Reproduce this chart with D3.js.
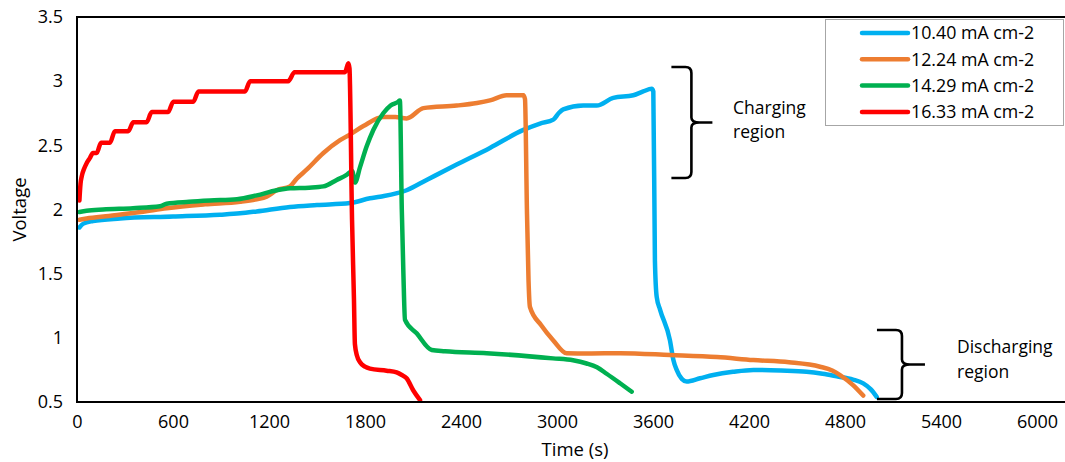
<!DOCTYPE html>
<html>
<head>
<meta charset="utf-8">
<script src="https://cdn.jsdelivr.net/npm/d3@7"></script>
<style>
  html, body { margin: 0; padding: 0; background: #fff; }
  svg { display: block; font-family: "Open Sans", "Noto Sans", sans-serif; }
</style>
</head>
<body>
<svg id="chart" width="1065" height="462"></svg>
<script>
// ---------------- data ----------------
const seriesNames = ["10.40 mA cm-2", "12.24 mA cm-2", "14.29 mA cm-2", "16.33 mA cm-2"];
const seriesColors = ["#00B0F0", "#ED7D31", "#00B050", "#FF0000"];

const blueT = [15, 40, 100, 269, 600, 894, 1019, 1123, 1331, 1500, 1706, 1831, 1894, 2060, 2185, 2373, 2581, 2790, 2894, 2977, 3010, 3039, 3164, 3248, 3352, 3477, 3539, 3592, 3602, 3612, 3623, 3644, 3706, 3727, 3748, 3780, 3810, 3894, 3977, 4100, 4227, 4400, 4560, 4660, 4748, 4850, 4914, 4960, 4998];
const blueV = [1.86, 1.89, 1.91, 1.93, 1.945, 1.96, 1.97, 1.985, 2.02, 2.035, 2.05, 2.087, 2.10, 2.15, 2.23, 2.35, 2.48, 2.62, 2.67, 2.70, 2.75, 2.78, 2.81, 2.81, 2.87, 2.89, 2.92, 2.94, 2.92, 1.6, 1.32, 1.22, 0.98, 0.83, 0.75, 0.68, 0.66, 0.685, 0.71, 0.735, 0.75, 0.745, 0.736, 0.72, 0.70, 0.675, 0.645, 0.6, 0.54];

const orangeT = [15, 60, 200, 400, 560, 800, 1019, 1123, 1185, 1248, 1331, 1373, 1435, 1540, 1644, 1700, 1790, 1914, 1990, 2060, 2165, 2373, 2500, 2581, 2685, 2790, 2800, 2812, 2822, 2831, 2900, 2977, 3060, 3200, 3394, 3706, 4000, 4227, 4450, 4644, 4720, 4769, 4852, 4914];
const orangeV = [1.92, 1.93, 1.95, 1.98, 2.01, 2.04, 2.06, 2.08, 2.10, 2.15, 2.18, 2.24, 2.31, 2.44, 2.54, 2.58, 2.65, 2.72, 2.72, 2.71, 2.79, 2.81, 2.83, 2.85, 2.89, 2.89, 2.86, 2.0, 1.45, 1.24, 1.1, 0.98, 0.88, 0.878, 0.88, 0.866, 0.85, 0.827, 0.81, 0.775, 0.745, 0.71, 0.63, 0.55];

const greenT = [15, 60, 163, 350, 519, 560, 700, 831, 1000, 1123, 1248, 1331, 1450, 1540, 1623, 1685, 1720, 1737, 1769, 1810, 1852, 1914, 1960, 2008, 2018, 2030, 2040, 2050, 2123, 2217, 2300, 2561, 2975, 3100, 3185, 3250, 3310, 3394, 3467];
const greenV = [1.98, 1.99, 2.0, 2.01, 2.025, 2.045, 2.06, 2.07, 2.08, 2.11, 2.15, 2.165, 2.17, 2.18, 2.23, 2.27, 2.30, 2.21, 2.33, 2.49, 2.62, 2.75, 2.81, 2.84, 2.85, 2.0, 1.5, 1.14, 1.035, 0.905, 0.895, 0.88, 0.84, 0.825, 0.80, 0.77, 0.72, 0.646, 0.58];

const redT = [15, 22, 30, 45, 60, 80, 100, 123, 150, 206, 237, 320, 352, 435, 467, 570, 602, 727, 759, 1050, 1082, 1320, 1360, 1675, 1696, 1703, 1719, 1731, 1737, 1750, 1769, 1800, 1831, 1935, 1998, 2030, 2060, 2102, 2144];
const redV = [2.07, 2.2, 2.26, 2.32, 2.36, 2.40, 2.44, 2.44, 2.52, 2.52, 2.61, 2.61, 2.68, 2.68, 2.76, 2.76, 2.84, 2.84, 2.92, 2.92, 3.00, 3.00, 3.07, 3.07, 3.14, 3.10, 1.92, 1.3, 0.95, 0.86, 0.81, 0.775, 0.76, 0.744, 0.73, 0.71, 0.685, 0.59, 0.515];

const xTicks = [0, 600, 1200, 1800, 2400, 3000, 3600, 4200, 4800, 5400, 6000];
const yTicks = [0.5, 1, 1.5, 2, 2.5, 3, 3.5];

// annotations (data units)
const chargeBracket = { t: 3840, vTop: 3.11, vBot: 2.245 };
const dischargeBracket = { t: 5156, vTop: 1.061, vBot: 0.523 };
const chargeLabel = { t: 4100, lines: ["Charging", "region"], v: [2.744, 2.557] };
const dischargeLabel = { t: 5500, lines: ["Discharging", "region"], v: [0.882, 0.687] };

// ---------------- layout ----------------
const svg = d3.select("#chart");
const padL = 77, padT = 17, padB = 402, rightEdge = 1065;
const x = d3.scaleLinear().domain([0, 6000]).range([padL, 1037]);
const y = d3.scaleLinear().domain([0.5, 3.5]).range([padB, padT]);

const series = [
  { name: seriesNames[0], color: seriesColors[0], t: blueT, v: blueV },
  { name: seriesNames[1], color: seriesColors[1], t: orangeT, v: orangeV },
  { name: seriesNames[2], color: seriesColors[2], t: greenT, v: greenV },
  { name: seriesNames[3], color: seriesColors[3], t: redT, v: redV },
];

// top border
svg.append("line").attr("x1", padL).attr("x2", rightEdge).attr("y1", padT).attr("y2", padT)
  .attr("stroke", "#000").attr("stroke-width", 2);

// axes
const fs = "18px";
const yAxis = svg.append("g").attr("transform", `translate(${padL},0)`)
  .call(d3.axisLeft(y).tickValues(yTicks).tickSize(0).tickPadding(14).tickFormat(d3.format("")));
yAxis.select(".domain").remove();
yAxis.selectAll("text").attr("font-size", fs).attr("fill", "#000").attr("font-family", "'Open Sans', sans-serif");

const xAxis = svg.append("g").attr("transform", `translate(0,${padB})`)
  .call(d3.axisBottom(x).tickValues(xTicks).tickSize(0).tickPadding(13).tickFormat(d3.format("")));
xAxis.select(".domain").remove();
xAxis.selectAll("text").attr("font-size", fs).attr("fill", "#000").attr("font-family", "'Open Sans', sans-serif");

// series
const line = d3.line().x(d => x(d[0])).y(d => y(d[1])).curve(d3.curveMonotoneX);
const g = svg.append("g");
series.forEach(s => {
  const pts = s.t.map((t, i) => [t, s.v[i]]);
  g.append("path").datum(pts).attr("d", line)
    .attr("fill", "none").attr("stroke", s.color).attr("stroke-width", 4.5)
    .attr("stroke-linejoin", "round").attr("stroke-linecap", "round");
});

// axis lines on top
svg.append("line").attr("x1", padL).attr("x2", padL).attr("y1", padT - 1).attr("y2", padB + 1)
  .attr("stroke", "#000").attr("stroke-width", 2);
svg.append("line").attr("x1", padL - 1).attr("x2", rightEdge).attr("y1", padB).attr("y2", padB)
  .attr("stroke", "#000").attr("stroke-width", 2);

// axis titles
svg.append("text").attr("x", 575).attr("y", 456).attr("text-anchor", "middle")
  .attr("font-size", "18.5px").text("Time (s)");
svg.append("text").attr("transform", `translate(26,${(padT + padB) / 2}) rotate(-90)`)
  .attr("text-anchor", "middle").attr("font-size", "18.5px").text("Voltage");

// legend
const lg = svg.append("g");
lg.append("rect").attr("x", 825.5).attr("y", 19.5).attr("width", 238).attr("height", 106)
  .attr("fill", "#fff").attr("stroke", "#a6a6a6").attr("stroke-width", 1);
series.forEach((s, i) => {
  const cy = 33 + i * 26.3;
  lg.append("line").attr("x1", 862).attr("x2", 908).attr("y1", cy).attr("y2", cy)
    .attr("stroke", s.color).attr("stroke-width", 4.5).attr("stroke-linecap", "round");
  lg.append("text").attr("x", 911).attr("y", cy + 6.3).attr("font-size", "17.8px").text(s.name);
});

// brackets
function brace(b, hook, tip) {
  const xv = x(b.t), yT = y(b.vTop), yB = y(b.vBot), ym = (yT + yB) / 2;
  const r = 6;
  const p = `M${xv - hook},${yT} L${xv - r},${yT} Q${xv},${yT} ${xv},${yT + r}` +
    ` L${xv},${ym - 5} Q${xv},${ym} ${xv + 8},${ym} L${xv + tip},${ym}` +
    ` M${xv + 8},${ym} Q${xv},${ym} ${xv},${ym + 5}` +
    ` L${xv},${yB - r} Q${xv},${yB} ${xv - r},${yB} L${xv - hook},${yB}`;
  svg.append("path").attr("d", p).attr("fill", "none").attr("stroke", "#000")
    .attr("stroke-width", 2.6).attr("stroke-linejoin", "round");
}
brace(chargeBracket, 20, 21);
brace(dischargeBracket, 25, 23);

[chargeLabel, dischargeLabel].forEach(l => {
  l.lines.forEach((txt, i) => {
    svg.append("text").attr("x", x(l.t)).attr("y", y(l.v[i])).attr("font-size", "17.5px").text(txt);
  });
});
</script>
</body>
</html>
